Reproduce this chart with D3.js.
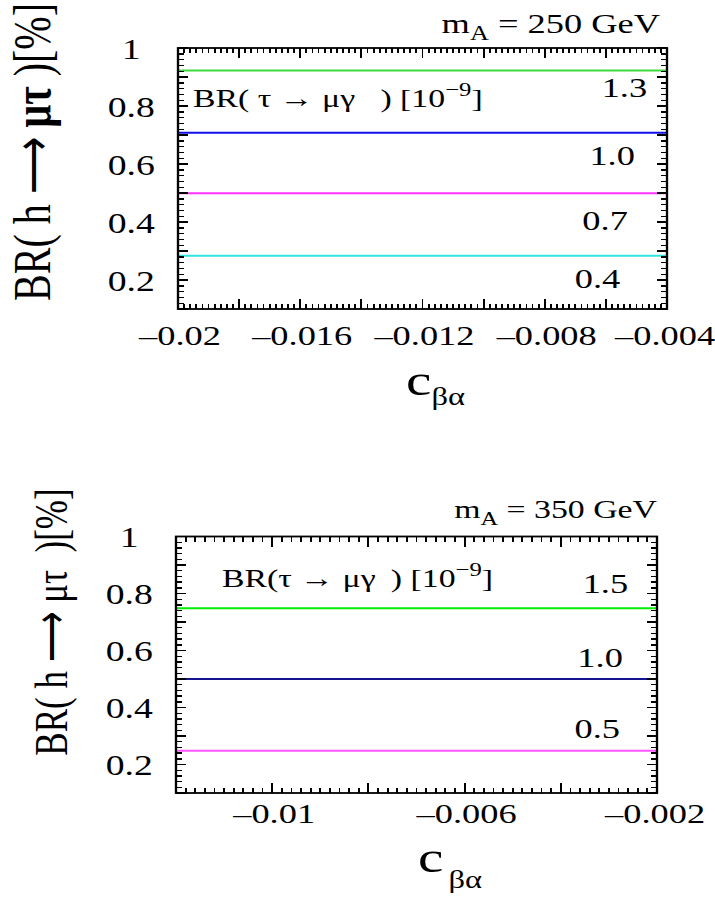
<!DOCTYPE html>
<html>
<head>
<meta charset="utf-8">
<script src="https://cdn.jsdelivr.net/npm/d3@7"></script>
<style>
  body { margin: 0; background: #fff; }
  text { font-family: "Liberation Serif", "Times New Roman", serif; fill: #000; white-space: pre; }
</style>
</head>
<body>
<div id="chart"></div>
<script>
// ---- data ----
// top panel, m_A = 250 GeV
const topXTicks = [-0.02, -0.016, -0.012, -0.008, -0.004];
const topXTickLabels = ["\u20130.02", "\u20130.016", "\u20130.012", "\u20130.008", "\u20130.004"];
const topLineValues = [0.922, 0.708, 0.499, 0.284];
const topLineLabels = ["1.3", "1.0", "0.7", "0.4"];
const topLabelX = [-0.00465, -0.00505, -0.00528, -0.00553];
const topLabelY = [0.831, 0.597, 0.372, 0.172];

// bottom panel, m_A = 350 GeV
const botXTicks = [-0.01, -0.006, -0.002];
const botXTickLabels = ["\u20130.01", "\u20130.006", "\u20130.002"];
const botLineValues = [0.748, 0.5, 0.248];
const botLineLabels = ["1.5", "1.0", "0.5"];
const botLabelX = [-0.0026, -0.00271, -0.00277];
const botLabelY = [0.802, 0.542, 0.293];

const yTicks = [0.2, 0.4, 0.6, 0.8, 1];
const yTickLabels = ["0.2", "0.4", "0.6", "0.8", "1"];

const topColors = ["#3ddc3d", "#1010e8", "#ff33ff", "#33e3e3"];
const botColors = ["#00ee00", "#15158f", "#ff55ff"];

// the original figure is stretched sideways, so draw in a narrower frame and scale x
const sx = 1.3;
const W = 715, H = 899;

const svg = d3.select("#chart").append("svg")
    .attr("width", W)
    .attr("height", H)
    .attr("style", "display:block");
svg.append("rect").attr("width", W).attr("height", H).attr("fill", "#fff");

const root = svg.append("g").attr("transform", "scale(" + sx + ",1)");

function range(a, b, step) {
  var out = [];
  var n = Math.round((b - a) / step);
  for (var i = 0; i <= n; i++) out.push(+(a + i * step).toFixed(6));
  return out;
}

function drawPanel(p) {
  var g = root.append("g");

  var x = d3.scaleLinear().domain(p.xDomain).range([p.left, p.right]);
  var y = d3.scaleLinear().domain([0.1, 1]).range([p.bottom, p.top]);

  var xMajor = range(p.xDomain[0], p.xDomain[1], 0.002);
  var xMinor = range(p.xDomain[0], p.xDomain[1], 0.0002);
  var yMajor = range(0.1, 1, 0.1);
  var yMinor = range(0.1, 1, 0.02);

  // coloured horizontal lines
  p.values.forEach(function(v, i) {
    g.append("path")
      .datum(p.xDomain.map(function(d) { return [d, v]; }))
      .attr("d", d3.line().x(function(d) { return x(d[0]); }).y(function(d) { return y(d[1]); }))
      .attr("stroke", p.colors[i])
      .attr("stroke-width", 2)
      .attr("fill", "none");
  });

  // ticks on all four sides, pointing inward (one path for all of them)
  var tickPath = d3.path();
  xMinor.forEach(function(d) {
    var len = xMajor.some(function(v) { return Math.abs(v - d) < 1e-7; }) ? 10 : 5;
    tickPath.moveTo(x(d), p.bottom); tickPath.lineTo(x(d), p.bottom - len);
    tickPath.moveTo(x(d), p.top); tickPath.lineTo(x(d), p.top + len);
  });
  yMinor.forEach(function(d) {
    var len = yMajor.some(function(v) { return Math.abs(v - d) < 1e-6; }) ? 8 : 4.3;
    tickPath.moveTo(p.left, y(d)); tickPath.lineTo(p.left + len, y(d));
    tickPath.moveTo(p.right, y(d)); tickPath.lineTo(p.right - len, y(d));
  });
  g.append("path")
    .attr("d", tickPath.toString())
    .attr("fill", "none")
    .attr("stroke", "#000")
    .attr("stroke-width", 1.4)
    .attr("shape-rendering", "crispEdges");

  // tick labels
  var xl = g.append("g").attr("transform", "translate(0," + p.bottom + ")")
    .call(d3.axisBottom(x).tickValues(p.xTicks).tickSize(0)
      .tickFormat(function(d, i) { return p.xTickLabels[i]; }));
  xl.select(".domain").remove();
  xl.attr("font-family", null).attr("font-size", null);
  xl.selectAll("text")
    .attr("y", p.xLabelDy)
    .attr("dy", 0)
    .attr("dx", function(d, i) { return i === p.xTicks.length - 1 ? -2 : 1; })
    .attr("font-size", 28);

  var yl = g.append("g").attr("transform", "translate(" + p.left + ",0)")
    .call(d3.axisLeft(y).tickValues(yTicks).tickSize(0)
      .tickFormat(function(d, i) { return yTickLabels[i]; }));
  yl.select(".domain").remove();
  yl.attr("font-family", null).attr("font-size", null);
  yl.selectAll("text")
    .attr("x", -36)
    .attr("dy", "0.36em")
    .attr("text-anchor", "middle")
    .attr("font-size", 29);

  // frame
  g.append("rect")
    .attr("x", p.left).attr("y", p.top)
    .attr("width", p.right - p.left).attr("height", p.bottom - p.top)
    .attr("fill", "none").attr("stroke", "#000").attr("stroke-width", 1.8);

  // line labels
  p.labels.forEach(function(t, i) {
    g.append("text")
      .attr("x", x(p.labelX[i]))
      .attr("y", y(p.labelY[i]))
      .attr("text-anchor", "end")
      .attr("font-size", 28)
      .text(t);
  });

  // m_A label
  var m = g.append("text")
    .attr("x", p.mX).attr("y", p.mY)
    .attr("text-anchor", "end")
    .attr("font-size", p.mSize);
  m.append("tspan").text("m");
  m.append("tspan").attr("font-size", p.mSize * 0.72).attr("dy", 7).text("A");
  m.append("tspan").attr("dy", -7).text(" = " + p.mass + " GeV");

  // BR(tau -> mu gamma) annotation
  var br = g.append("text")
    .attr("x", p.brX).attr("y", p.brY)
    .attr("font-size", 26);
  br.append("tspan").text(p.brText + "[10");
  br.append("tspan").attr("font-size", 19).attr("dy", -11).text("\u22129");
  br.append("tspan").attr("dy", 11).text("]");

  // x title
  var xt = g.append("text")
    .attr("x", p.cX).attr("y", p.cY)
    .attr("font-size", 44);
  xt.append("tspan").text("c");
  xt.append("tspan").attr("font-size", 25).attr("dx", p.subDx).attr("dy", p.subDy).text("\u03b2\u03b1");

  // y title
  var yt = g.append("text")
    .attr("transform", "translate(" + p.yTitleX + "," + p.yTitleY + ") rotate(-90)")
    .attr("text-anchor", "middle")
    .attr("font-size", p.yTitleSize);
  yt.append("tspan").text(p.yTitleHead);
  yt.append("tspan").attr("font-weight", p.boldMuTau ? "bold" : "normal").text("\u03bc\u03c4");
  yt.append("tspan").text(p.yTitleTail);
}

drawPanel({
  xDomain: [-0.02, -0.004],
  left: 178 / sx, right: 667 / sx, top: 48, bottom: 309,
  xTicks: topXTicks, xTickLabels: topXTickLabels, xLabelDy: 36,
  values: topLineValues, colors: topColors,
  labels: topLineLabels, labelX: topLabelX, labelY: topLabelY,
  mass: 250, mX: 660 / sx, mY: 33, mSize: 28,
  brText: "BR( \u03c4 \u2192 \u03bc\u03b3   ) ", brX: 193 / sx, brY: 107,
  cX: 406 / sx, cY: 395, subDx: 0, subDy: 10,
  yTitleX: 50 / sx, yTitleY: 152, yTitleSize: 40, boldMuTau: true,
  yTitleHead: "BR( h \u27f6 ", yTitleTail: " )[%]"
});

drawPanel({
  xDomain: [-0.012, -0.002],
  left: 176 / sx, right: 657 / sx, top: 536.5, bottom: 793,
  xTicks: botXTicks, xTickLabels: botXTickLabels, xLabelDy: 30,
  values: botLineValues, colors: botColors,
  labels: botLineLabels, labelX: botLabelX, labelY: botLabelY,
  mass: 350, mX: 657 / sx, mY: 518, mSize: 26,
  brText: "BR(\u03c4 \u2192 \u03bc\u03b3\u2009 ) ", brX: 222 / sx, brY: 587,
  cX: 418 / sx, cY: 872, subDx: 4, subDy: 16,
  yTitleX: 67 / sx, yTitleY: 622, yTitleSize: 35, boldMuTau: false,
  yTitleHead: "BR( h \u27f6 ", yTitleTail: "  )[%]"
});
</script>
</body>
</html>
